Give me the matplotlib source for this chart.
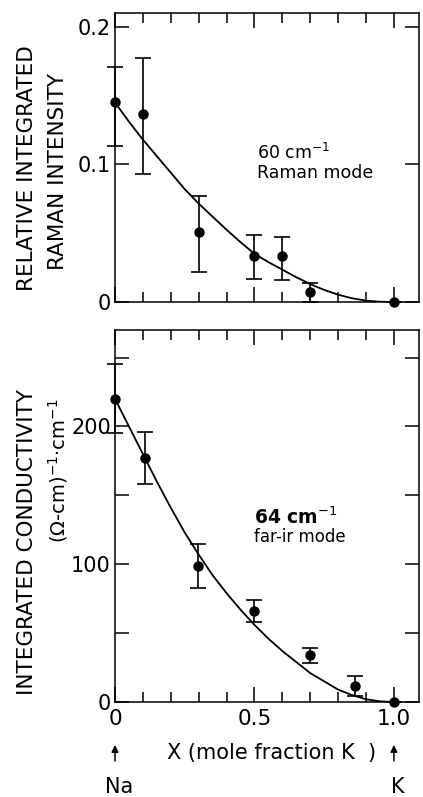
import matplotlib

matplotlib.use("Agg")
import matplotlib.pyplot as plt
from matplotlib.ticker import MultipleLocator, NullFormatter

plt.rcParams.update(
    {
        "font.family": "DejaVu Sans",
        "font.size": 12,
        "axes.linewidth": 1.1,
        "xtick.direction": "in",
        "ytick.direction": "in",
    }
)

# --- data ---
# top panel: 60 cm^-1 Raman mode
raman_x = [0.0, 0.1, 0.3, 0.5, 0.6, 0.7, 1.0]
raman_y = [0.145, 0.1365, 0.051, 0.0336, 0.0336, 0.007, 0.0]
raman_lo = [0.113, 0.093, 0.022, 0.017, 0.016, 0.0, 0.0]
raman_hi = [0.171, 0.177, 0.077, 0.049, 0.047, 0.014, 0.0]
raman_fit_x = [0.0, 0.05, 0.1, 0.15, 0.2, 0.25, 0.3, 0.35, 0.4, 0.45, 0.5,
               0.55, 0.6, 0.65, 0.7, 0.75, 0.8, 0.85, 0.9, 0.95, 1.0]
raman_fit_y = [0.145, 0.131, 0.118, 0.106, 0.094, 0.082, 0.0715, 0.062, 0.0525,
               0.0435, 0.035, 0.029, 0.0235, 0.018, 0.013, 0.0088, 0.0053,
               0.0027, 0.001, 0.0002, 0.0]

# bottom panel: 64 cm^-1 far-ir mode
ir_x = [0.0, 0.108, 0.298, 0.497, 0.70, 0.86, 1.0]
ir_y = [220, 177, 99, 66, 34, 11.6, 0]
ir_lo = [195, 158, 83, 58, 28, 4, 0]
ir_hi = [245, 196, 115, 74, 39, 19, 0]
ir_fit_x = [0.0, 0.05, 0.1, 0.15, 0.2, 0.25, 0.3, 0.35, 0.4, 0.45, 0.5,
            0.55, 0.6, 0.65, 0.7, 0.75, 0.8, 0.85, 0.9, 0.95, 1.0]
ir_fit_y = [220, 200, 180, 160, 141, 123, 107, 92, 79, 67, 56,
            46, 37, 29, 21, 15, 9, 5, 2, 0.5, 0]

W, H = 423, 797
fig = plt.figure(figsize=(W / 100, H / 100), dpi=100)


def px_axes(left, top, right, bottom):
    return fig.add_axes([left / W, 1 - bottom / H, (right - left) / W, (bottom - top) / H])


def style(ax, ymajor):
    ax.set_xlim(0, 1.09)
    ax.xaxis.set_major_locator(MultipleLocator(0.5))
    ax.xaxis.set_minor_locator(MultipleLocator(0.1))
    ax.yaxis.set_major_locator(MultipleLocator(ymajor))
    ax.tick_params(which="both", top=True, right=True, width=1.1)
    ax.tick_params(axis="x", which="major", length=11, pad=5)
    ax.tick_params(axis="x", which="minor", length=7)
    ax.tick_params(axis="y", which="major", length=10, pad=3, labelsize=15)


def draw(ax, x, y, lo, hi, fx, fy):
    yerr = [[v - l for v, l in zip(y, lo)], [h - v for v, h in zip(y, hi)]]
    ax.errorbar(x, y, yerr=yerr, fmt="o", color="black", ms=6.5, elinewidth=1.2,
                capsize=5.5, capthick=1.2, clip_on=False, zorder=4)
    ax.plot(fx, fy, color="black", lw=1.3, zorder=3)


# top panel
ax1 = px_axes(115, 13, 419, 302)
draw(ax1, raman_x, raman_y, raman_lo, raman_hi, raman_fit_x, raman_fit_y)
ax1.set_ylim(0, 0.210)
style(ax1, 0.1)
ax1.xaxis.set_major_formatter(NullFormatter())
ax1.set_yticks([0, 0.1, 0.2])
ax1.set_yticklabels(["0", "0.1", "0.2"])
ax1.text(0.51, 0.108, "60 cm$^{-1}$", fontsize=12.5, va="center")
ax1.text(0.51, 0.094, "Raman mode", fontsize=12.5, va="center")

# bottom panel
ax2 = px_axes(115, 330, 419, 702)
draw(ax2, ir_x, ir_y, ir_lo, ir_hi, ir_fit_x, ir_fit_y)
ax2.set_ylim(0, 270)
style(ax2, 50)
ax2.set_yticks([0, 50, 100, 150, 200, 250])
ax2.set_yticklabels(["0", "", "100", "", "200", ""])
ax2.set_xticks([0, 0.5, 1.0])
ax2.set_xticklabels(["0", "0.5", "1.0"], fontsize=15.5)
ax2.text(0.50, 134, "64 cm$^{-1}$", fontsize=13.5, fontweight="bold", va="center")
ax2.text(0.50, 120, "far-ir mode", fontsize=12, va="center")
ax2.text(0.56, -0.137, "X (mole fraction K  )", transform=ax2.get_xaxis_transform(),
         ha="center", va="center", fontsize=15)

for xv, lab in [(0.0, "Na"), (1.0, "K")]:
    ax2.annotate("", xy=(xv, -0.108), xytext=(xv, -0.166),
                 xycoords=("data", "axes fraction"), textcoords=("data", "axes fraction"),
                 arrowprops=dict(arrowstyle="-|>", color="black", lw=1.1, mutation_scale=10))
    ax2.text(xv + 0.015, -0.228, lab, transform=ax2.get_xaxis_transform(),
             ha="center", va="center", fontsize=15)

# y labels
fig.text(27 / W, 1 - 168 / H, "RELATIVE INTEGRATED", rotation=90, ha="center", va="center", fontsize=15.5)
fig.text(58 / W, 1 - 172 / H, "RAMAN INTENSITY", rotation=90, ha="center", va="center", fontsize=15.5)
fig.text(27 / W, 1 - 542 / H, "INTEGRATED CONDUCTIVITY", rotation=90, ha="center", va="center", fontsize=15.5)
fig.text(58 / W, 1 - 471 / H, "(Ω-cm)$^{-1}$·cm$^{-1}$", rotation=90, ha="center", va="center", fontsize=14)

fig.savefig("out.png", dpi=100, facecolor="white")
